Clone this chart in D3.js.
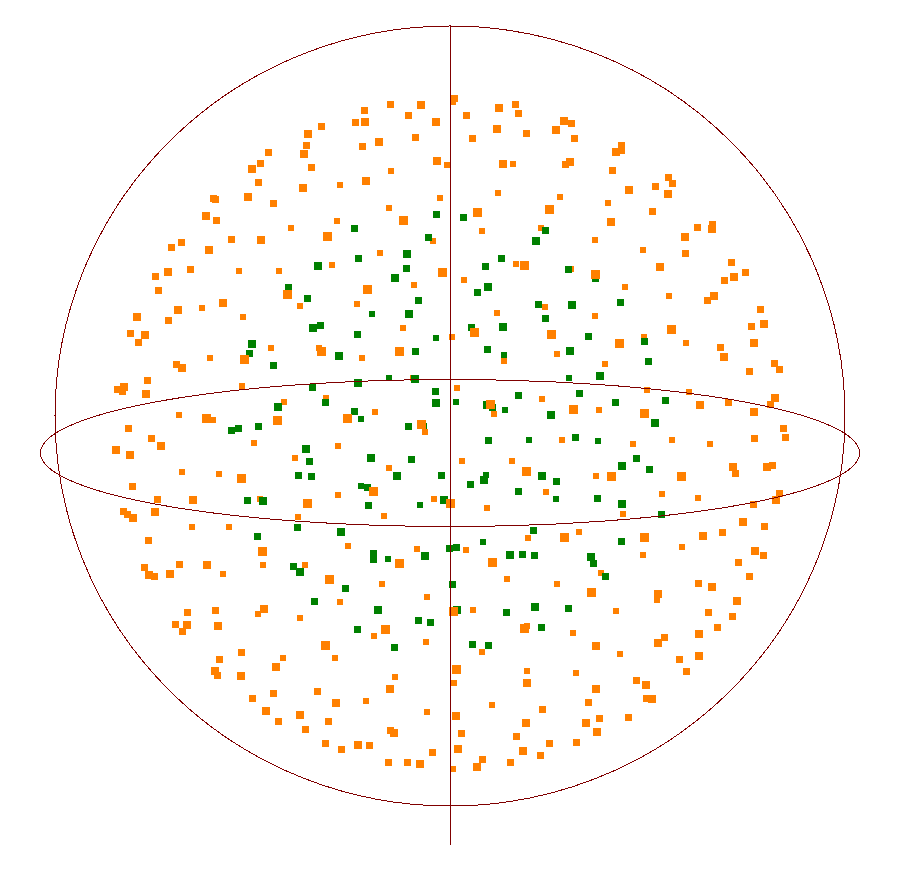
<!DOCTYPE html>
<html>
<head>
<meta charset="utf-8">
<script src="https://cdn.jsdelivr.net/npm/d3@7"></script>
<style>
    html, body { margin: 0; padding: 0; background: #fff; }
    svg { display: block; }
</style>
</head>
<body>
<div id="chart"></div>
<script>
// points on the sphere: [horizontal, vertical, magnitude class]
const orangePoints = [
    [-59,311,2],[-29,311,3],[-86,305,2],[-42,301,2],[-94,294,2],[-85,294,3],[-129,290,2],[-14,294,3],[-142,282,3],[-35,279,2],
    [-71,274,3],[-144,271,2],[-88,270,2],[-182,264,2],[-146,262,3],[-13,255,3],[-3,251,1],[-190,253,2],[-139,249,2],[-198,247,3],
    [-59,245,1],[-192,233,2],[-110,231,1],[-84,235,3],[-147,228,3],[-237,218,2],[-235,217,2],[-202,219,3],[-177,212,2],[-10,218,1],
    [-61,208,1],[-244,200,3],[-234,196,2],[-113,195,1],[-47,196,4],[-159,188,1],[-123,180,4],[-17,175,1],[-219,177,2],[-189,176,3],
    [-269,174,2],[-279,168,2],[-241,166,3],[-70,163,1],[-118,151,1],
    [4,318,2],[3,314,1],[49,308,3],[65,311,2],[68,303,2],[16,301,2],[114,295,3],[121,293,2],[47,287,3],[106,286,3],
    [76,282,2],[22,278,2],[124,278,2],[171,271,2],[171,266,2],[166,264,3],[53,252,3],[63,252,1],[120,254,3],[115,252,2],
    [162,246,2],[218,238,2],[222,232,2],[205,230,2],[179,226,3],[218,222,3],[48,223,1],[110,219,1],[158,213,1],[27,204,4],
    [99,207,4],[202,205,2],[161,194,3],[262,192,2],[262,187,3],[247,189,2],[32,185,1],[91,188,1],[235,179,3],[145,176,1],
    [193,166,1],[235,162,2],[66,152,1],[74,151,4],[210,149,3],[281,154,2],
    [-295,140,2],[-282,144,3],[-260,147,2],[-211,145,1],[-171,145,1],[-8,144,4],[-292,126,2],[-83,127,4],[-36,131,1],[-163,122,4],
    [-227,113,3],[-93,112,1],[-150,110,1],[-272,106,3],[-248,108,1],[-207,99,1],[-313,99,3],[-282,96,2],[-47,88,1],[-320,83,2],
    [-305,81,3],[-312,74,2],[-179,68,1],[-131,68,1],[-129,64,4],[-51,64,4],[-240,58,1],[-206,57,4],[-88,58,1],[-274,52,2],
    [-268,48,3],[-303,36,2],[-37,38,1],[-208,30,1],[-326,29,3],[-333,27,2],[-328,25,2],[-304,22,3],[-124,18,1],[-166,14,1],
    [-271,1,1],[-75,4,1],[-244,-3,4],[-237,-4,1],[-173,-4,4],[-103,-3,4],[-29,-8,4],[-25,-16,1],[-322,-12,2],[-299,-22,2],
    [121,147,1],[145,142,4],[295,144,2],[284,139,3],[274,135,2],[14,136,1],[175,129,1],[219,120,1],[264,120,3],[257,116,2],
    [95,109,1],[47,103,1],[310,107,2],[145,100,1],[314,92,3],[301,90,2],[221,86,4],[25,84,4],[101,82,4],[2,79,1],
    [194,79,1],[169,73,4],[236,73,1],[304,73,3],[270,69,2],[107,62,1],[274,59,3],[54,55,1],[324,53,2],[329,47,2],
    [155,52,1],[299,45,2],[7,28,1],[197,26,1],[239,24,1],[325,18,3],[321,12,2],[92,17,1],[278,14,2],[250,11,3],
    [40,12,4],[44,2,1],[123,7,4],[149,6,1],[194,3,4],[304,4,3],[333,-12,2],[335,-21,2],[305,-22,2],[112,-24,1],[222,-24,1],
    [-289,-30,3],[-196,-27,1],[-112,-30,1],[-334,-34,3],[-320,-39,3],[-155,-42,1],[-61,-52,1],[-268,-56,1],[-231,-58,1],[-209,-63,4],
    [-318,-70,2],[-77,-76,4],[-112,-79,1],[-293,-83,2],[-257,-84,3],[-190,-83,1],[-143,-87,4],[-16,-83,1],[0,-87,4],[-295,-96,3],
    [-327,-95,2],[-323,-98,2],[-317,-102,3],[-152,-101,1],[-66,-100,1],[-258,-111,1],[-221,-111,1],[-302,-124,2],[-188,-135,4],[-102,-130,1],
    [-33,-133,1],[-51,-147,4],[-306,-152,2],[-301,-159,3],[-296,-161,2],[-271,-148,2],[-280,-158,3],[-243,-149,3],[-227,-158,1],[-187,-149,1],
    [-145,-149,1],[-121,-163,4],[-68,-168,1],[-23,-181,1],[-110,-186,1],[-263,-196,2],[-235,-194,2],[-186,-193,3],[-192,-198,1],[3,-195,4],
    [183,-28,1],[260,-28,1],[12,-45,1],[62,-45,1],[76,-56,4],[146,-60,1],[161,-61,4],[231,-61,4],[283,-51,3],[285,-58,2],
    [317,-51,3],[323,-49,2],[96,-76,1],[212,-78,1],[248,-82,1],[329,-77,2],[326,-84,3],[303,-88,2],[37,-92,1],[173,-98,1],
    [293,-106,3],[314,-110,2],[272,-116,2],[129,-116,1],[253,-120,3],[78,-122,1],[114,-121,4],[194,-121,4],[232,-131,1],[16,-134,1],
    [305,-135,3],[313,-139,2],[193,-139,1],[43,-146,4],[288,-146,2],[151,-157,1],[299,-161,2],[57,-163,1],[107,-168,1],[248,-167,2],
    [262,-171,3],[141,-176,4],[208,-178,3],[207,-184,1],[287,-185,3],[23,-194,1],[166,-195,1],[258,-196,2],[282,-201,2],
    [-275,-209,2],[-263,-209,3],[-268,-215,2],[-232,-210,3],[-150,-202,1],[-65,-213,4],[-76,-220,1],[-24,-226,1],[-125,-229,4],[-209,-236,2],
    [-231,-243,2],[-167,-242,1],[-115,-242,1],[-174,-251,3],[-235,-255,3],[-233,-259,2],[-209,-260,3],[-55,-261,1],[-60,-273,3],[-133,-275,2],
    [-177,-277,2],[-198,-282,2],[-114,-287,3],[-84,-285,1],[-184,-295,3],[-150,-299,3],[-23,-296,1],[-172,-305,2],[-122,-305,2],[-145,-313,2],
    [-59,-314,2],[-56,-317,3],[-125,-327,2],[-92,-329,3],[-81,-329,2],[-109,-333,2],[-18,-336,2],[-62,-347,2],[-43,-346,2],[-30,-348,3],
    [75,-212,4],[77,-210,1],[123,-217,1],[267,-211,2],[249,-218,3],[214,-221,2],[208,-227,3],[146,-230,3],[32,-236,1],[170,-238,1],
    [249,-240,3],[229,-243,2],[6,-253,4],[77,-255,1],[126,-257,1],[236,-255,2],[4,-267,1],[77,-267,3],[186,-264,2],[196,-269,3],
    [146,-273,3],[196,-282,2],[202,-283,3],[138,-286,2],[42,-289,1],[92,-293,2],[6,-300,3],[76,-307,3],[136,-307,3],[149,-303,2],
    [178,-302,2],[147,-316,3],[12,-317,2],[66,-321,2],[99,-327,2],[126,-326,2],[8,-333,3],[73,-335,3],[90,-339,2],[32,-343,2],
    [61,-346,2],[27,-351,3],[3,-353,1]
];

const greenPoints = [
    [-14,202,2],[-96,188,2],[-22,179,2],[-43,162,3],[-92,158,2],[-132,150,3],[-44,148,2],[13,199,2],[95,185,2],[86,175,3],
    [51,158,2],[35,150,2],[-162,129,2],[-55,138,3],[-143,117,2],[-32,115,2],[-78,102,1],[-41,102,3],[-137,88,3],[-130,91,2],
    [-93,82,2],[-14,78,1],[-198,72,3],[-201,62,2],[-111,60,3],[-35,64,2],[-177,51,2],[-61,38,1],[-35,37,3],[-92,33,3],
    [-138,29,2],[-15,25,2],[-14,13,3],[-125,14,2],[-172,9,3],[-96,5,2],[-89,-3,1],[-219,-14,2],[-212,-13,2],[-192,-10,2],
    [-42,-11,2],[-26,-10,1],[118,147,2],[145,138,2],[38,129,3],[27,124,2],[88,112,2],[122,111,3],[170,114,2],[95,98,2],
    [53,89,3],[21,88,2],[138,80,2],[194,75,2],[37,66,2],[120,65,3],[54,61,1],[198,55,2],[119,38,1],[150,40,3],
    [129,23,2],[68,21,2],[6,14,1],[37,11,3],[42,9,2],[55,6,1],[165,14,2],[215,16,2],[101,1,3],[205,-7,3],
    [38,-24,2],[79,-24,1],[125,-21,2],[148,-25,1],[-144,-33,3],[-141,-45,2],[-79,-42,3],[-39,-43,2],[-53,-60,3],[-9,-60,2],
    [-151,-59,2],[-139,-61,2],[-89,-70,1],[-83,-71,2],[-203,-84,2],[-187,-85,3],[-82,-89,2],[-30,-89,1],[-6,-84,3],[-153,-112,2],
    [-109,-116,3],[-193,-120,2],[-76,-137,2],[-77,-143,2],[-62,-143,1],[-25,-140,3],[-1,-132,2],[-157,-150,2],[-150,-156,3],[-105,-172,2],
    [-136,-185,2],[-72,-194,3],[2,-168,2],[186,-42,2],[172,-50,3],[199,-53,2],[36,-59,1],[34,-64,3],[92,-60,3],[106,-66,2],
    [20,-68,2],[68,-75,2],[106,-83,1],[147,-82,2],[172,-88,3],[211,-98,2],[83,-114,2],[171,-125,2],[33,-126,1],[6,-131,2],
    [60,-139,3],[72,-138,2],[84,-139,2],[141,-141,3],[143,-147,2],[155,-161,2],[85,-191,3],[118,-192,2],[7,-194,3],[56,-196,2],
    [-32,-205,2],[-19,-206,2],[-93,-213,2],[-56,-231,2],[91,-211,2],[22,-228,2],[38,-229,2]
];

const width = 900, height = 869;

const svg = d3.select("#chart").append("svg")
    .attr("width", width)
    .attr("height", height)
    .attr("shape-rendering", "crispEdges");

// sphere outline spans +-395 across and +-390 up/down
const x_scale = d3.scaleLinear().domain([-395, 395]).range([55, 845]);
const y_scale = d3.scaleLinear().domain([-390, 390]).range([806, 26]);
const size_scale = d3.scaleLinear().domain([1, 4]).range([6, 9]);

// bigger squares sit on top of the smaller ones
const points = orangePoints.map(d => ({x: d[0], y: d[1], m: d[2], fill: "#ff8000"}))
    .concat(greenPoints.map(d => ({x: d[0], y: d[1], m: d[2], fill: "#008000"})))
    .sort((a, b) => a.m - b.m);

svg.selectAll(".point")
    .data(points)
    .enter().append("rect")
        .attr("class", "point")
        .attr("x", d => Math.round(x_scale(d.x) - size_scale(d.m) / 2))
        .attr("y", d => Math.round(y_scale(d.y) - size_scale(d.m) / 2))
        .attr("width", d => size_scale(d.m))
        .attr("height", d => size_scale(d.m))
        .style("fill", d => d.fill);

// sphere, axis and equator
const guides = svg.append("g")
    .style("fill", "none")
    .style("stroke", "#800000")
    .style("stroke-width", 1);

guides.append("ellipse")
    .attr("cx", x_scale(0))
    .attr("cy", y_scale(0))
    .attr("rx", x_scale(395) - x_scale(0))
    .attr("ry", y_scale(0) - y_scale(390));

guides.append("ellipse")
    .attr("cx", x_scale(0))
    .attr("cy", y_scale(-37))
    .attr("rx", x_scale(409.5) - x_scale(0))
    .attr("ry", y_scale(0) - y_scale(73.5));

guides.append("line")
    .attr("x1", x_scale(0))
    .attr("x2", x_scale(0))
    .attr("y1", y_scale(391))
    .attr("y2", y_scale(-429));
</script>
</body>
</html>
